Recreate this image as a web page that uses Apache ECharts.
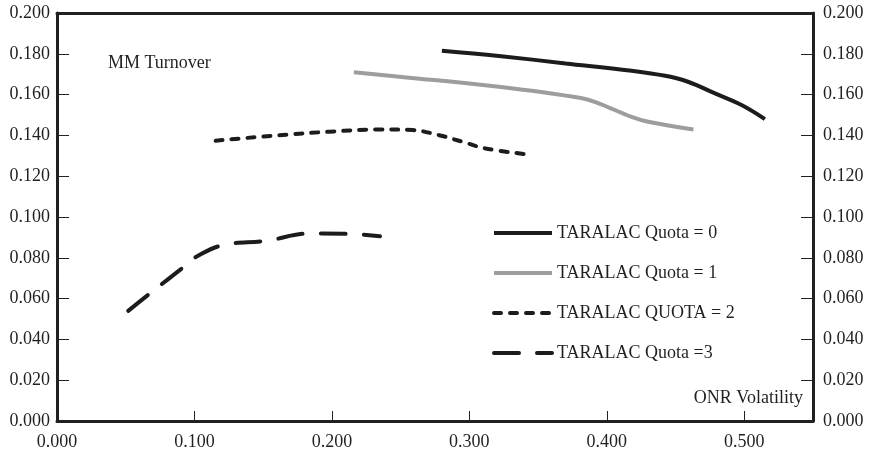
<!DOCTYPE html>
<html>
<head>
<meta charset="utf-8">
<script src="https://cdn.jsdelivr.net/npm/echarts@6/dist/echarts.min.js"></script>
<style>
html,body{margin:0;padding:0;background:#fff;}
#chart{width:871px;height:452px;}
</style>
</head>
<body>
<div id="chart"></div>
<script>
// ---- data (ONR Volatility, MM Turnover) ----
const seriesNames = ['TARALAC Quota = 0', 'TARALAC Quota = 1', 'TARALAC QUOTA = 2', 'TARALAC Quota =3'];
const quota0 = [[0.280,0.1815],[0.3215,0.1789],[0.370,0.1753],[0.418,0.1717],[0.4425,0.1692],[0.459,0.1663],[0.4787,0.1606],[0.498,0.1549],[0.515,0.148]];
const quota1 = [[0.216,0.171],[0.249,0.1688],[0.3215,0.1638],[0.382,0.1582],[0.394,0.1557],[0.418,0.1491],[0.430,0.1467],[0.463,0.1429]];
const quota2 = [[0.1154,0.1374],[0.1618,0.1401],[0.198,0.1418],[0.2344,0.1429],[0.2586,0.1426],[0.278,0.1401],[0.2948,0.1369],[0.3118,0.1336],[0.341,0.1308]];
const quota3 = [[0.0518,0.054],[0.0675,0.0625],[0.0929,0.0759],[0.1014,0.0805],[0.1207,0.0862],[0.1522,0.0883],[0.1836,0.0919],[0.2163,0.0916],[0.235,0.0906]];
const xAxisTitle = 'ONR Volatility';
const yAxisTitle = 'MM Turnover';

const ink = '#231f20';
const font = 'Liberation Serif';
const black = '#1d1b1c';
const gray = '#9d9d9f';
const styles = [
  {color: black, width: 4, type: 'solid', cap: 'butt'},
  {color: gray, width: 4, type: 'solid', cap: 'butt'},
  {color: black, width: 4, type: [7, 9], cap: 'round'},
  {color: black, width: 4, type: [25, 18], cap: 'round'}
];
const chart = echarts.init(document.getElementById('chart'), null, {renderer: 'canvas'});

const yAxisCommon = {
  type: 'value', min: 0, max: 0.2, interval: 0.02,
  axisLine: {show: true, onZero: false, lineStyle: {color: ink, width: 3}},
  axisTick: {show: true, inside: true, length: 12, lineStyle: {color: ink, width: 1}},
  splitLine: {show: false},
  axisLabel: {color: ink, fontFamily: font, fontSize: 18, formatter: v => v.toFixed(3)}
};

chart.setOption({
  animation: false,
  backgroundColor: '#fff',
  grid: {left: 57, right: 58, top: 13, bottom: 31, containLabel: false},
  xAxis: [{
    type: 'value', min: 0, max: 0.55, interval: 0.1, position: 'bottom',
    axisLine: {show: true, onZero: false, lineStyle: {color: ink, width: 3}},
    axisTick: {show: true, inside: true, length: 10, lineStyle: {color: ink, width: 1}},
    splitLine: {show: false},
    axisLabel: {color: ink, fontFamily: font, fontSize: 18, margin: 12, showMaxLabel: false,
      formatter: v => (v > 0.501 ? '' : v.toFixed(3))}
  }, {
    type: 'value', min: 0, max: 0.55, position: 'top',
    axisLine: {show: true, onZero: false, lineStyle: {color: ink, width: 3}},
    axisTick: {show: false}, axisLabel: {show: false}, splitLine: {show: false}
  }],
  yAxis: [
    Object.assign({}, yAxisCommon, {position: 'left', axisLabel: Object.assign({}, yAxisCommon.axisLabel, {margin: 7})}),
    Object.assign({}, yAxisCommon, {position: 'right', axisLabel: Object.assign({}, yAxisCommon.axisLabel, {margin: 10})})
  ],
  legend: {
    orient: 'vertical', left: 487, top: 219,
    itemWidth: 58, itemHeight: 18, itemGap: 22,
    textStyle: {color: ink, fontFamily: font, fontSize: 18, lineHeight: 18},
    itemStyle: {opacity: 0, borderWidth: 0},
    data: seriesNames.map((n, i) => ({
      name: n,
      itemStyle: {opacity: 0, borderWidth: 0},
      lineStyle: Object.assign({opacity: 1}, styles[i])
    }))
  },
  graphic: [
    {type: 'text', left: 108, top: 54, style: {text: yAxisTitle, fill: ink, font: '18px "Liberation Serif"'}},
    {type: 'text', right: 68, top: 389, style: {text: xAxisTitle, fill: ink, font: '18px "Liberation Serif"'}}
  ],
  series: [quota0, quota1, quota2, quota3].map((d, i) => ({
    name: seriesNames[i], type: 'line', data: d, smooth: 0.4, symbol: 'none',
    lineStyle: Object.assign({}, styles[i]), itemStyle: {color: styles[i].color}
  }))
});
</script>
</body>
</html>
